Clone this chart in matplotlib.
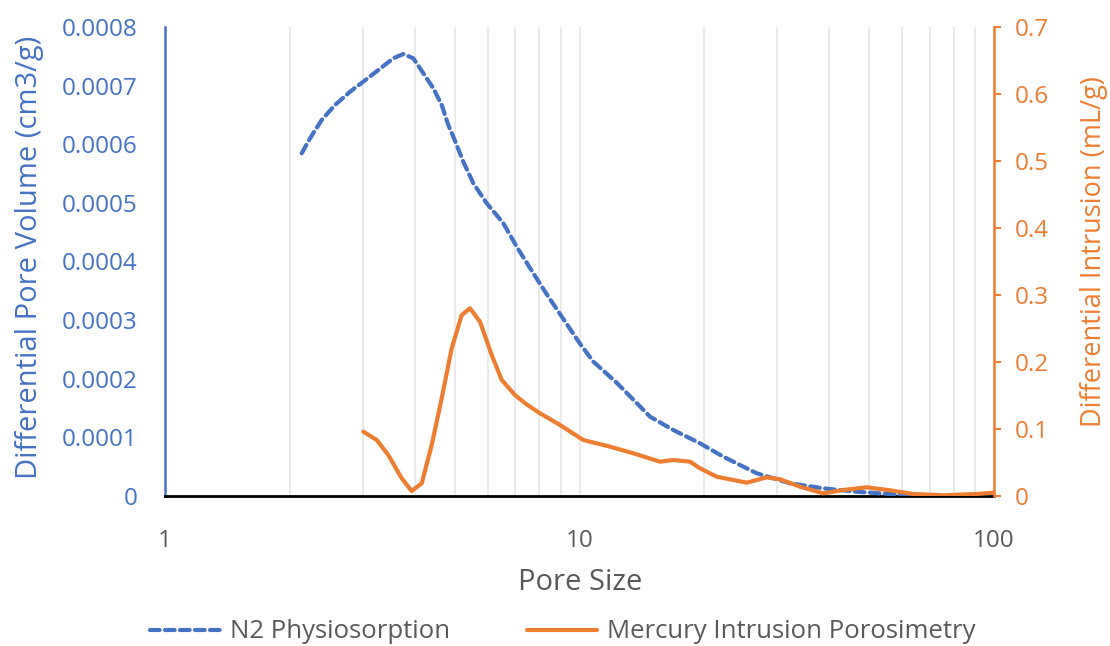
import matplotlib
matplotlib.use("Agg")
import matplotlib.pyplot as plt
from matplotlib.ticker import FixedLocator, NullFormatter

plt.rcParams['font.family'] = ['Open Sans', 'DejaVu Sans']

# N2 Physiosorption (left axis)
n2_size = [2.137, 2.238, 2.388, 2.572, 2.795, 3.009, 3.270, 3.555, 3.758, 3.972, 4.201, 4.440,
           4.651, 4.825, 4.961, 5.245, 5.544, 5.972, 6.551, 7.055, 7.737, 8.410, 10.0, 10.80,
           12.3, 14.80, 16.84, 19.53, 22.23, 26.77, 32.19, 38.74, 46.64, 56.12, 67.52, 76.17]
n2_vol = [0.0005846, 0.0006101, 0.0006414, 0.0006670, 0.0006896, 0.0007067, 0.0007266, 0.0007466,
          0.0007539, 0.0007466, 0.0007210, 0.0006954, 0.0006670, 0.0006328, 0.0006129, 0.0005702,
          0.0005334, 0.0004993, 0.0004652, 0.0004252, 0.0003799, 0.0003400, 0.000261, 0.0002291,
          0.000193, 0.0001353, 0.0001126, 0.0000899, 0.0000670, 0.0000387, 0.0000217, 0.0000131,
          0.0000073, 0.0000034, 0.0, 0.0]

# Mercury Intrusion Porosimetry (right axis)
hg_size = [3.009, 3.242, 3.457, 3.724, 3.937, 4.163, 4.400, 4.651, 4.917, 5.198, 5.444, 5.754,
           6.141, 6.492, 6.988, 7.389, 8.030, 8.974, 10.21, 11.85, 13.49, 15.64, 16.84, 18.48,
           19.53, 21.43, 25.32, 28.29, 30.46, 34.04, 38.74, 43.29, 49.30, 56.12, 63.88, 75.46,
           90.85, 99.6]
hg_intr = [0.0960, 0.0836, 0.0612, 0.0264, 0.0075, 0.0190, 0.0761, 0.1458, 0.2204, 0.2701, 0.2801,
           0.2601, 0.2104, 0.1731, 0.1507, 0.1384, 0.1234, 0.1060, 0.0836, 0.0736, 0.0637, 0.0512,
           0.0537, 0.0512, 0.0413, 0.0288, 0.0199, 0.0279, 0.0249, 0.0139, 0.0040, 0.0090, 0.0130,
           0.0085, 0.0030, 0.0010, 0.0030, 0.0049]

left_ticks = [0, 0.0001, 0.0002, 0.0003, 0.0004, 0.0005, 0.0006, 0.0007, 0.0008]
left_labels = ['0', '0.0001', '0.0002', '0.0003', '0.0004', '0.0005', '0.0006', '0.0007', '0.0008']
right_ticks = [0, 0.1, 0.2, 0.3, 0.4, 0.5, 0.6, 0.7]
right_labels = ['0', '0.1', '0.2', '0.3', '0.4', '0.5', '0.6', '0.7']
x_ticks = [1, 10, 100]
x_labels = ['1', '10', '100']

BLUE = '#4472C4'
ORANGE = '#ED7D31'
GRAY = '#595959'

W, H = 1110, 646
fig = plt.figure(figsize=(W / 100, H / 100), dpi=100)
ax = fig.add_axes([165 / W, 1 - 496 / H, (994 - 165) / W, (496 - 27) / H])
ax2 = ax.twinx()

ax.set_xscale('log')
ax.set_xlim(1, 100)
ax.set_ylim(0, 0.0008)
ax2.set_ylim(0, 0.7)

minor = [m * d for d in (1, 10) for m in range(2, 10)]
ax.xaxis.set_minor_locator(FixedLocator(minor))
ax.xaxis.set_minor_formatter(NullFormatter())
ax.set_xticks(x_ticks)
ax.set_xticklabels(x_labels)
ax.grid(True, axis='x', which='both', color='#E6E6E6', linewidth=1.2)
ax.set_axisbelow(True)

ln1, = ax.plot(n2_size, n2_vol, color=BLUE, linewidth=3.0, dashes=(2.3, 1.3),
               dash_capstyle='round', dash_joinstyle='round', zorder=3)
ln2, = ax2.plot(hg_size, hg_intr, color=ORANGE, linewidth=3.0, solid_joinstyle='round',
                solid_capstyle='round', zorder=3)

ax.set_yticks(left_ticks)
ax.set_yticklabels(left_labels)
ax.tick_params(axis='y', which='both', length=0, labelsize=17.5, labelcolor=BLUE, pad=20)
ax.tick_params(axis='x', which='both', length=0, labelsize=17.5, labelcolor=GRAY, pad=24)

ax2.set_yticks(right_ticks)
ax2.set_yticklabels(right_labels)
ax2.tick_params(axis='y', length=5, width=1.5, color=ORANGE, labelsize=17.5, labelcolor=ORANGE, pad=10)

fig.text(30 / W, 1 - 257 / H, 'Differential Pore Volume (cm3/g)', rotation=90, ha='center',
         va='center', fontsize=21, color=BLUE)
fig.text(1094 / W, 1 - 252 / H, 'Differential Intrusion (mL/g)', rotation=90, ha='center',
         va='center', fontsize=19.5, color=ORANGE)
fig.text(580 / W, 1 - 582 / H, 'Pore Size', ha='center', va='center', fontsize=21, color=GRAY)

for a in (ax, ax2):
    a.spines['top'].set_visible(False)
ax.spines['left'].set_color(BLUE)
ax.spines['left'].set_linewidth(1.8)
ax.spines['right'].set_visible(False)
ax.spines['bottom'].set_color('black')
ax.spines['bottom'].set_linewidth(2.0)
ax2.spines['left'].set_visible(False)
ax2.spines['bottom'].set_visible(False)
ax2.spines['right'].set_color(ORANGE)
ax2.spines['right'].set_linewidth(1.8)

fig.legend([ln1, ln2], ['N2 Physiosorption', 'Mercury Intrusion Porosimetry'],
           loc='center', bbox_to_anchor=(563 / W, 1 - 632 / H), ncol=2, frameon=False,
           fontsize=18.5, labelcolor=GRAY, handlelength=2.7, columnspacing=3.0, handletextpad=0.4)

fig.savefig('out.png', dpi=100)
